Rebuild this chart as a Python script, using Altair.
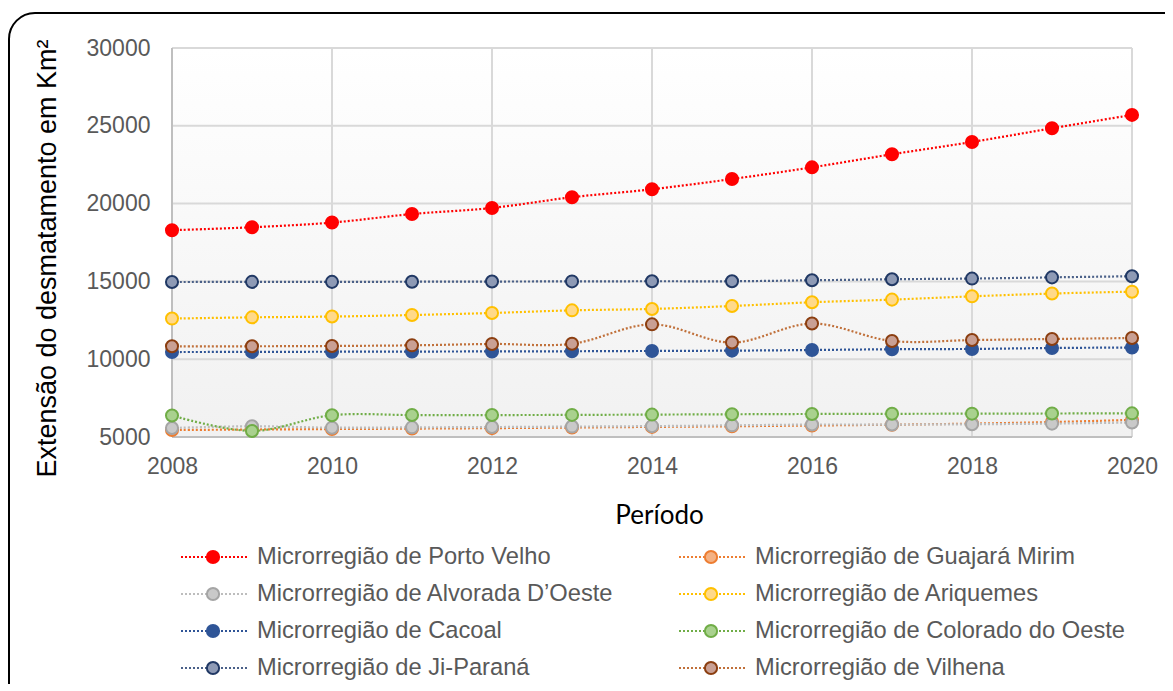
import altair as alt
import pandas as pd

years = list(range(2008, 2021))
series_names = [
    "Microrregião de Porto Velho",
    "Microrregião de Guajará Mirim",
    "Microrregião de Alvorada D’Oeste",
    "Microrregião de Ariquemes",
    "Microrregião de Cacoal",
    "Microrregião de Colorado do Oeste",
    "Microrregião de Ji-Paraná",
    "Microrregião de Vilhena",
]
porto_velho = [18290, 18480, 18780, 19330, 19720, 20410, 20920, 21580, 22330, 23170, 23960, 24840, 25700]
guajara_mirim = [5450, 5480, 5510, 5540, 5570, 5610, 5650, 5690, 5740, 5790, 5860, 5960, 6100]
alvorada = [5580, 5690, 5600, 5620, 5640, 5670, 5700, 5750, 5800, 5800, 5820, 5860, 5930]
ariquemes = [12610, 12690, 12740, 12840, 12970, 13140, 13230, 13420, 13660, 13830, 14040, 14220, 14340]
cacoal = [10460, 10470, 10480, 10490, 10500, 10510, 10530, 10550, 10590, 10640, 10660, 10720, 10750]
colorado = [6380, 5390, 6400, 6410, 6410, 6420, 6440, 6460, 6480, 6490, 6500, 6510, 6520]
ji_parana = [14960, 14970, 14970, 14980, 14990, 15000, 15010, 15010, 15070, 15140, 15180, 15260, 15330]
vilhena = [10830, 10830, 10850, 10890, 10980, 10990, 12240, 11070, 12290, 11170, 11230, 11300, 11360]
series_values = [porto_velho, guajara_mirim, alvorada, ariquemes, cacoal, colorado, ji_parana, vilhena]

line_colors = ["#FF0000", "#ED7D31", "#BDBDBD", "#FFC000", "#2F5597", "#70AD47", "#4A6088", "#C0703A"]
fill_colors = ["#FF0000", "#F4B183", "#C9C9C9", "#FFD98A", "#2F5597", "#A9D18E", "#8E9AB5", "#C9A094"]
edge_colors = ["#FF0000", "#ED7D31", "#A5A5A5", "#FFC000", "#2F5597", "#70AD47", "#203864", "#8B3E10"]

x_ticks = [2008, 2010, 2012, 2014, 2016, 2018, 2020]
y_ticks = [5000, 10000, 15000, 20000, 25000, 30000]

rows = []
for i, name in enumerate(series_names):
    for yr, v in zip(years, series_values[i]):
        rows.append({"series": name, "idx": i, "year": yr, "value": v})
df = pd.DataFrame(rows)

leg_df = pd.DataFrame({
    "series": series_names,
    "col": [i % 2 for i in range(len(series_names))],
    "row": [i // 2 for i in range(len(series_names))],
})

W, H = 960, 389
FONT = "Liberation Sans"

xs = alt.Scale(domain=[x_ticks[0], x_ticks[-1]], nice=False, zero=False)
ys = alt.Scale(domain=[y_ticks[0], y_ticks[-1]], nice=False, zero=False)
line_scale = alt.Scale(domain=series_names, range=line_colors)
fill_scale = alt.Scale(domain=series_names, range=fill_colors)
edge_scale = alt.Scale(domain=series_names, range=edge_colors)

x_axis = alt.Axis(
    values=x_ticks, format="d", grid=False, domain=False, ticks=False,
    labelFont=FONT, labelFontSize=23, labelColor="#595959", labelPadding=18,
    labelFlush=False, labelOverlap=False,
    title="Período", titleFont="Lato", titleFontSize=26, titleFontWeight="normal",
    titleColor="#000000", titleX=487, titleY=86, titleAlign="center",
    titleBaseline="alphabetic",
)
y_axis = alt.Axis(
    values=y_ticks, format="d", grid=False, domain=False, ticks=False,
    labelFont=FONT, labelFontSize=23, labelColor="#595959", labelPadding=22,
    labelFlush=False, labelOverlap=False,
    title="Extensão do desmatamento em Km²", titleFont=FONT, titleFontSize=27,
    titleFontWeight="normal", titleColor="#000000", titleAngle=270,
    titleX=-117, titleY=210, titleAlign="center", titleBaseline="alphabetic",
)

one = pd.DataFrame({"a": [0]})
gradient = alt.LinearGradient(
    gradient="linear",
    stops=[alt.GradientStop(color="#FFFFFF", offset=0),
           alt.GradientStop(color="#F1F1F1", offset=1)],
    x1=0, x2=0, y1=0, y2=1,
)
bg = alt.Chart(one).mark_rect(color=gradient).encode(
    x=alt.X(datum=x_ticks[0], scale=xs, axis=x_axis),
    x2=alt.X2(datum=x_ticks[-1]),
    y=alt.Y(datum=y_ticks[0], scale=ys, axis=y_axis),
    y2=alt.Y2(datum=y_ticks[-1]),
)

vgrid = alt.Chart(pd.DataFrame({"t": x_ticks})).mark_rule(color="#D9D9D9", strokeWidth=2).encode(
    x=alt.X("t:Q", scale=xs, axis=x_axis)
)
hgrid = alt.Chart(pd.DataFrame({"t": y_ticks})).mark_rule(color="#D9D9D9", strokeWidth=2).encode(
    y=alt.Y("t:Q", scale=ys, axis=y_axis)
)
xline = alt.Chart(one).mark_rule(color="#BFBFBF", strokeWidth=2).encode(
    x=alt.X(datum=x_ticks[0], scale=xs, axis=x_axis)
)
yline = alt.Chart(one).mark_rule(color="#BFBFBF", strokeWidth=2).encode(
    y=alt.Y(datum=y_ticks[0], scale=ys, axis=y_axis)
)

lines = alt.Chart(df).mark_line(
    strokeDash=[2, 2], strokeWidth=2.2, interpolate="catmull-rom"
).encode(
    x=alt.X("year:Q", scale=xs, axis=x_axis),
    y=alt.Y("value:Q", scale=ys, axis=y_axis),
    color=alt.Color("series:N", scale=line_scale, legend=None),
    detail="series:N",
)
points = alt.Chart(df).mark_circle(size=145, strokeWidth=2, opacity=1).encode(
    x=alt.X("year:Q", scale=xs, axis=x_axis),
    y=alt.Y("value:Q", scale=ys, axis=y_axis),
    fill=alt.Fill("series:N", scale=fill_scale, legend=None),
    stroke=alt.Stroke("series:N", scale=edge_scale, legend=None),
    order=alt.Order("idx:Q"),
)

main = alt.layer(bg, vgrid, hgrid, xline, yline, lines, points)

leg_x = alt.Scale(domain=[0, 1], range=[41, 539])
leg_y = alt.Scale(domain=[0, 3], range=[509, 620])
leg_base = alt.Chart(leg_df).encode(
    x=alt.X("col:Q", scale=leg_x, axis=None),
    y=alt.Y("row:Q", scale=leg_y, axis=None),
)
leg_rules = leg_base.mark_rule(strokeDash=[2, 2], strokeWidth=2, xOffset=-32, x2Offset=34).encode(
    x2="col:Q",
    color=alt.Color("series:N", scale=line_scale, legend=None),
)
leg_pts = leg_base.mark_circle(size=150, strokeWidth=2, opacity=1).encode(
    fill=alt.Fill("series:N", scale=fill_scale, legend=None),
    stroke=alt.Stroke("series:N", scale=edge_scale, legend=None),
)
leg_txt = leg_base.mark_text(
    align="left", baseline="middle", dx=44, font=FONT, fontSize=23.7, color="#595959"
).encode(text="series:N")
legend = alt.layer(leg_rules, leg_pts, leg_txt)

border = alt.Chart(one).mark_rect(
    filled=False, stroke="#000000", strokeWidth=2, cornerRadius=26
).encode(
    x=alt.value(-163), x2=alt.value(1150), y=alt.value(-35), y2=alt.value(760)
)

chart = alt.layer(main, legend, border).resolve_scale(
    x="independent", y="independent"
).properties(
    width=W, height=H,
    autosize=alt.AutoSizeParams(type="none"),
    padding={"left": 164, "top": 40, "right": 33, "bottom": 247},
    background="#FFFFFF",
).configure_view(stroke=None)

chart.save("out.html", embed_options={"renderer": "svg", "actions": False})
